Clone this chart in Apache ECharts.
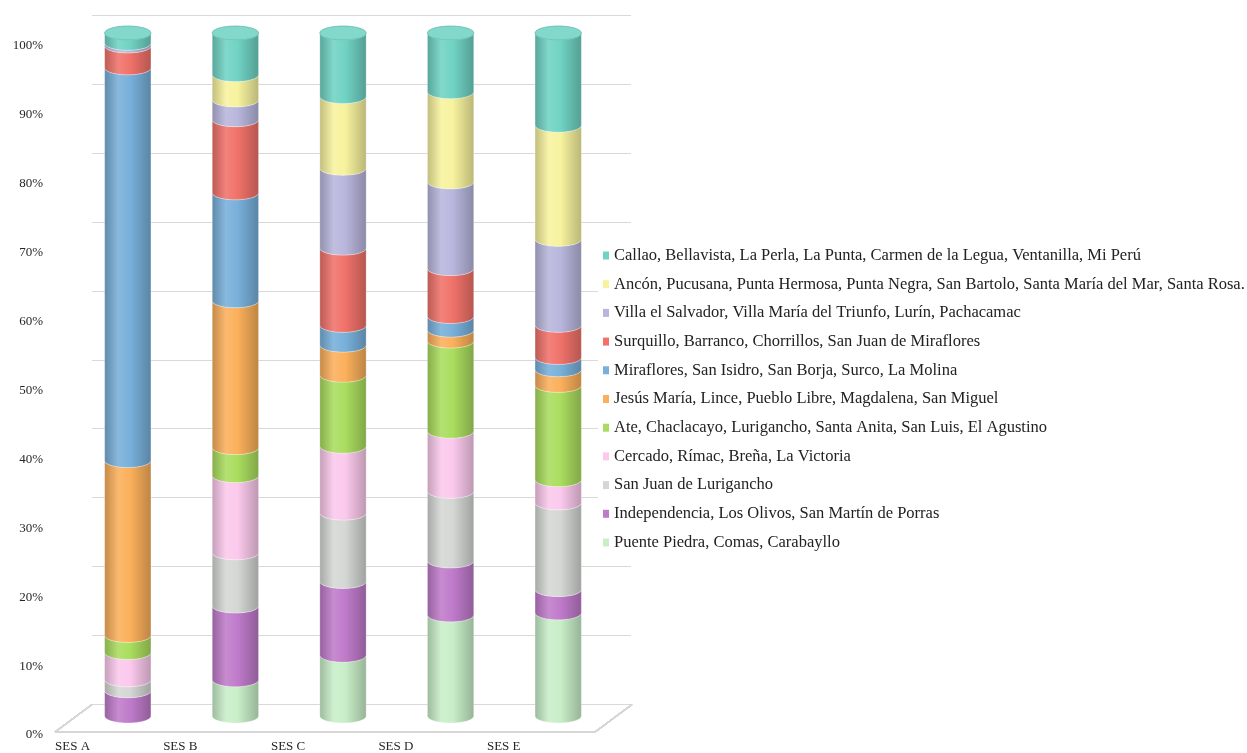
<!DOCTYPE html>
<html>
<head>
<meta charset="utf-8">
<script src="https://cdn.jsdelivr.net/npm/echarts@6/dist/echarts.min.js"></script>
<style>
  html, body { margin: 0; padding: 0; background: #ffffff; }
  #chart { width: 1247px; height: 753px; }
</style>
</head>
<body>
<div id="chart"></div>
<script>
// Socio-economic levels (x axis)
const categories = ['SES A', 'SES B', 'SES C', 'SES D', 'SES E'];

// Percentage ticks of the value axis
const yTicks = [0, 10, 20, 30, 40, 50, 60, 70, 80, 90, 100];

// Share (%) of each group of districts within every SES level.
// Listed from the bottom of each column to its top.
const puentePiedra      = [0,    5.3,  8.9,  14.8, 15.1];
const independencia     = [3.7,  10.8, 10.8, 7.9,  3.4];
const sanJuanLurigancho = [1.6,  7.8,  10.0, 10.2, 12.7];
const cercado           = [4.0,  11.3, 9.8,  8.8,  3.4];
const ate               = [2.5,  4.1,  10.4, 13.2, 13.8];
const jesusMaria        = [25.6, 21.5, 4.4,  1.6,  2.3];
const miraflores        = [57.5, 15.8, 2.9,  2.0,  1.8];
const surquillo         = [3.2,  10.7, 11.3, 7.0,  4.7];
const villaSalvador     = [0.4,  2.9,  11.7, 12.7, 12.6];
const ancon             = [0,    3.7,  10.5, 13.2, 16.7];
const callao            = [1.5,  6.1,  9.3,  8.6,  13.5];

// Group names, same order as the arrays above
const groupNames = [
  'Puente Piedra, Comas, Carabayllo',
  'Independencia, Los Olivos, San Martín de Porras',
  'San Juan de Lurigancho',
  'Cercado, Rímac, Breña, La Victoria',
  'Ate, Chaclacayo, Lurigancho, Santa Anita, San Luis, El Agustino',
  'Jesús María, Lince, Pueblo Libre, Magdalena, San Miguel',
  'Miraflores, San Isidro, San Borja, Surco, La Molina',
  'Surquillo, Barranco, Chorrillos, San Juan de Miraflores',
  'Villa el Salvador, Villa María del Triunfo, Lurín, Pachacamac',
  'Ancón, Pucusana, Punta Hermosa, Punta Negra, San Bartolo, Santa María del Mar, Santa Rosa.',
  'Callao, Bellavista, La Perla, La Punta, Carmen de la Legua, Ventanilla, Mi Perú'
];
const groupValues = [
  puentePiedra, independencia, sanJuanLurigancho, cercado, ate,
  jesusMaria, miraflores, surquillo, villaSalvador, ancon, callao
];

// Fill colour of each group
const palette = [
  '#c8eec8', '#bf7bca', '#d4d7d4', '#fbc9ec', '#aadd5f',
  '#fbb05b', '#78b0da', '#f0726a', '#b8b6dc', '#f7f29e', '#70d3c4'
];

const FONT = "'Liberation Serif', 'Times New Roman', serif";
const BAR_RATIO = 0.43;      // cylinder width relative to the category band
const DEPTH_X = 37;          // depth offset of the back wall
const DEPTH_Y = 27.5;

function shade(hex, amt) {
  const n = parseInt(hex.slice(1), 16);
  let r = (n >> 16) & 255, g = (n >> 8) & 255, b = n & 255;
  const f = c => {
    const v = amt >= 0 ? c + (255 - c) * amt : c * (1 + amt);
    return Math.max(0, Math.min(255, Math.round(v)));
  };
  return 'rgb(' + f(r) + ',' + f(g) + ',' + f(b) + ')';
}

// Lower half of an ellipse (front edge of a cylinder slice), left → right
function frontArc(cx, cy, rx, ry, reverse) {
  const pts = [];
  const N = 24;
  for (let i = 0; i <= N; i++) {
    const th = Math.PI - Math.PI * i / N;
    pts.push([cx + rx * Math.cos(th), cy + ry * Math.sin(th)]);
  }
  return reverse ? pts.reverse() : pts;
}

function fullEllipse(cx, cy, rx, ry) {
  const pts = [];
  const N = 48;
  for (let i = 0; i < N; i++) {
    const th = 2 * Math.PI * i / N;
    pts.push([cx + rx * Math.cos(th), cy + ry * Math.sin(th)]);
  }
  return pts;
}

// Stack the groups: each item is [category, start, end, isTopSlice]
const totals = categories.map(() => 0);
const lastNonZero = categories.map((_, c) => {
  let k = -1;
  groupValues.forEach((arr, g) => { if (arr[c] > 0) k = g; });
  return k;
});
const stackedData = groupValues.map((arr, g) =>
  arr.map((v, c) => {
    const start = totals[c];
    totals[c] += v;
    return [c, start, totals[c], lastNonZero[c] === g ? 1 : 0];
  })
);

function makeCylinderRenderer(color) {
  const gradient = {
    type: 'linear', x: 0, y: 0, x2: 1, y2: 0,
    colorStops: [
      { offset: 0, color: shade(color, -0.22) },
      { offset: 0.3, color: shade(color, 0.12) },
      { offset: 0.55, color: color },
      { offset: 1, color: shade(color, -0.25) }
    ]
  };
  return function (params, api) {
    const cat = api.value(0), lo = api.value(1), hi = api.value(2), isTop = api.value(3);
    if (hi - lo < 0.05) return null;
    const b = api.coord([cat, lo]);
    const t = api.coord([cat, hi]);
    const rx = api.size([1, 0])[0] * BAR_RATIO / 2;
    const ry = rx * 0.3;
    const cx = b[0];
    const pts = frontArc(cx, t[1], rx, ry, false).concat(frontArc(cx, b[1], rx, ry, true));
    const children = [{
      type: 'polygon',
      shape: { points: pts },
      style: { fill: gradient, stroke: 'rgba(255,255,255,0.35)', lineWidth: 0.8 }
    }];
    if (isTop) {
      children.push({
        type: 'polygon',
        shape: { points: fullEllipse(cx, t[1], rx, ry) },
        style: { fill: shade(color, 0.12), stroke: shade(color, -0.12), lineWidth: 0.8 }
      });
    }
    return { type: 'group', children: children };
  };
}

// Perspective lines from the value labels to the back wall, plus the floor
function frameRenderer(params, api) {
  const v = api.value(0);
  const p = api.coord([0, v]);
  const lineStyle = { stroke: '#d6d6d6', lineWidth: 1.2 };
  const children = [{
    type: 'line',
    shape: { x1: p[0], y1: p[1], x2: p[0] + DEPTH_X, y2: p[1] - DEPTH_Y },
    style: lineStyle
  }];
  if (v === 0) {
    const q = api.coord([1, 0]);
    children.push({ type: 'line', shape: { x1: p[0], y1: p[1], x2: q[0], y2: q[1] }, style: lineStyle });
    children.push({ type: 'line', shape: { x1: q[0], y1: q[1], x2: q[0] + DEPTH_X, y2: q[1] - DEPTH_Y }, style: lineStyle });
  }
  return { type: 'group', children: children };
}

const cylinderSeries = groupNames.map((name, g) => ({
  name: name,
  type: 'custom',
  coordinateSystem: 'cartesian2d',
  xAxisIndex: 3,
  yAxisIndex: 3,
  clip: false,
  z: 5,
  itemStyle: { color: palette[g] },
  encode: { x: 0, y: [1, 2] },
  renderItem: makeCylinderRenderer(palette[g]),
  data: stackedData[g]
}));

const chart = echarts.init(document.getElementById('chart'), null, { renderer: 'canvas' });

chart.setOption({
  backgroundColor: '#ffffff',
  animation: false,
  grid: [
    // back wall
    { left: 92, right: 616, top: 15, bottom: 48.5 },
    // front value labels and floor edge
    { left: 55, right: 652, top: 43, bottom: 21 },
    // category labels
    { left: 18.6, right: 689.4, top: 43, bottom: 21 },
    // cylinders
    { left: 74, right: 635, top: 33, bottom: 37 }
  ],
  xAxis: [
    { gridIndex: 0, type: 'value', min: 0, max: 1, show: false },
    { gridIndex: 1, type: 'value', min: 0, max: 1, show: false },
    {
      gridIndex: 2, type: 'category', data: categories,
      axisLine: { show: false }, axisTick: { show: false },
      axisLabel: { margin: 8, color: '#262626', fontFamily: FONT, fontSize: 13 }
    },
    { gridIndex: 3, type: 'category', data: categories, show: false }
  ],
  yAxis: [
    {
      gridIndex: 0, type: 'value', min: 0, max: 100, interval: 10,
      axisLine: { show: false }, axisTick: { show: false }, axisLabel: { show: false },
      splitLine: { show: true, lineStyle: { color: '#d9d9d9', width: 1.2 } }
    },
    {
      gridIndex: 1, type: 'value', min: 0, max: 100, interval: 10,
      axisLine: { show: false }, axisTick: { show: false }, splitLine: { show: false },
      axisLabel: {
        margin: 12, color: '#262626', fontFamily: FONT, fontSize: 13,
        formatter: '{p|{value}%}',
        rich: { p: { fontFamily: FONT, fontSize: 13, color: '#262626', padding: [6, 0, 0, 0] } }
      }
    },
    { gridIndex: 2, type: 'value', min: 0, max: 100, show: false },
    { gridIndex: 3, type: 'value', min: 0, max: 100, show: false }
  ],
  legend: {
    orient: 'vertical',
    left: 598,
    top: 237,
    padding: [10, 0, 10, 5],
    backgroundColor: '#ffffff',
    icon: 'rect',
    itemWidth: 6,
    itemHeight: 8,
    itemGap: 11.7,
    data: groupNames.slice().reverse(),
    textStyle: { fontFamily: FONT, fontSize: 16.5, lineHeight: 17, color: '#222222' }
  },
  series: [
    {
      name: 'frame',
      type: 'custom',
      coordinateSystem: 'cartesian2d',
      xAxisIndex: 1,
      yAxisIndex: 1,
      clip: false,
      silent: true,
      z: 1,
      renderItem: frameRenderer,
      data: yTicks.map(v => [0, v])
    }
  ].concat(cylinderSeries)
});
</script>
</body>
</html>
